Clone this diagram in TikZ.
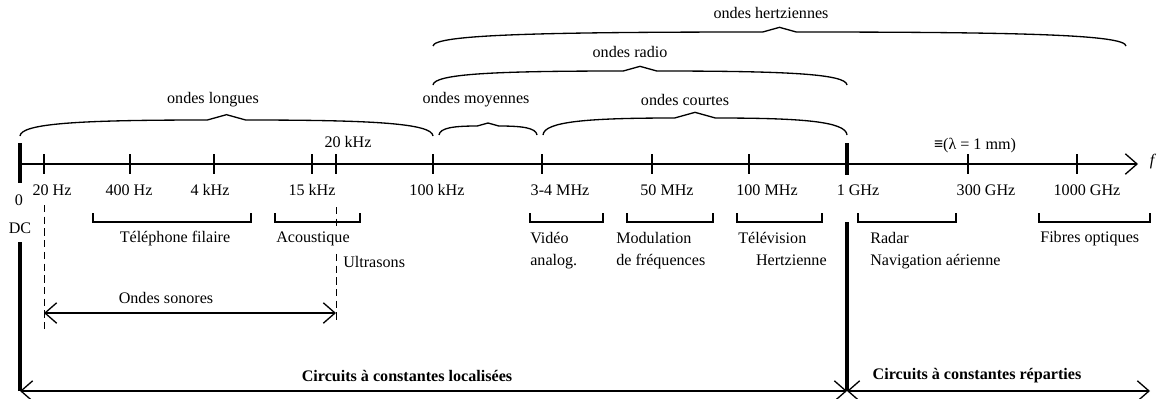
\documentclass[tikz,border=0pt]{standalone}
\usepackage{fontspec}
\setmainfont{Liberation Serif}
\usetikzlibrary{arrows.meta,positioning}

\newcommand{\accolade}[4]{%
  \draw[trait] ({#1},{#3}) .. controls ({#1+1},{#3-0.8*#4}) and ({#1+0.15*(#2-#1)},{#3-#4}) .. ({(#1+#2)/2-1.2*#4},{#3-#4})
    -- ({(#1+#2)/2},{#3-#4-#4/3}) -- ({(#1+#2)/2+1.2*#4},{#3-#4})
    .. controls ({#2-0.15*(#2-#1)},{#3-#4}) and ({#2-1},{#3-0.8*#4}) .. ({#2},{#3});}

\begin{document}
\begin{tikzpicture}[x=0.024cm,y=-0.024cm,>={Straight Barb[length=8pt,width=14pt]},every node/.style={font=\fontsize{11}{15}\selectfont, inner sep=0pt},trait/.style={line width=0.9pt},epais/.style={line width=2.8pt},crochet/.style={line width=1.4pt},tirets/.style={line width=0.6pt, dash pattern=on 5pt off 3pt},gras/.style={font=\fontsize{11}{15}\selectfont\bfseries}]
\useasboundingbox (0,0) rectangle (1160,398);
\coordinate (origine) at (20,164);
\coordinate (fin) at (1138,164);
\coordinate (g0) at (20,391);
\coordinate (g1) at (847,391);
\coordinate (g2) at (1150,391);
\coordinate (dc) at (20,242);
\coordinate (ghz) at (847,222);
\coordinate (s1) at (44,313);
\coordinate (s2) at (336,313);
\draw[trait,->] (origine) -- (fin);
\node (f) at (1152,162) {\itshape f};
\draw[epais] (20,143) -- (20,183);
\draw[epais] (847,143) -- (847,175);
\foreach \x in {44,130,214,312,336,433,542,652,749,968,1077}
  \draw[trait] (\x,154) -- (\x,174);
\foreach \lx/\txt [count=\i] in {52/20 Hz,129/400 Hz,210/4 kHz,312/15 kHz,437/100 kHz,560/3-4 MHz,667/50 MHz,767/100 MHz,858/1 GHz,986/300 GHz,1087/1000 GHz}
  \node (freq\i) at (\lx,190) {\txt};
\node (zero) at (19,200) {0};
\node (DC) at (20,228) {DC};
\node (vingtk) at (348,142) {20 kHz};
\node (lambda) at (975,146) {{\bfseries ≡}(λ = 1 mm)};
\accolade{20}{433}{136}{16}
\accolade{439}{537}{135}{9}
\accolade{543}{847}{135}{17}
\accolade{433}{847}{85}{14}
\accolade{433}{1126}{46}{14}
\node (longues) at (213,100) {ondes longues};
\node (moyennes) at (476,100) {ondes moyennes};
\node (courtes) at (685,100) {ondes courtes};
\node (radio) at (630,52) {ondes radio};
\node (hertz) at (771,13) {ondes hertziennes};
\draw[tirets] (44,205) -- (44,332);
\draw[tirets] (336,207) -- (336,320);
\foreach \a/\b in {93/251,275/360,530/603,627/713,737/822,858/956,1039/1150}
  \draw[crochet] (\a,213) |- (\b,222) -- (\b,213);
\node (telephone) at (175,239) {Téléphone filaire};
\node[anchor=west, fill=white, inner ysep=3pt] (acoustique) at (276,239) {Acoustique};
\node[anchor=west] (ultrasons) at (343,262) {Ultrasons};
\node[anchor=north west, align=left] (video) at (530,232) {Vidéo\\analog.};
\node[anchor=north west, align=left] (modulation) at (616,232) {Modulation\\de fréquences};
\node[anchor=north west, align=left] (television) at (738,232) {Télévision\\\hspace{1.1em}Hertzienne};
\node[anchor=north west, align=left] (radar) at (870,232) {Radar\\Navigation aérienne};
\node[anchor=west] (fibres) at (1040,239) {Fibres optiques};
\draw[trait,<->] (s1) -- (s2);
\node (sonores) at (166,298) {Ondes sonores};
\draw[epais] (dc) -- (g0);
\draw[epais] (ghz) -- (g1);
\draw[trait,<->] (g0) -- (g1);
\draw[trait,<->] (g1) -- (g2);
\node[gras] (localisees) at (407,376) {Circuits à constantes localisées};
\node[gras] (reparties) at (977,376) {Circuits à constantes réparties};
\end{tikzpicture}
\end{document}
